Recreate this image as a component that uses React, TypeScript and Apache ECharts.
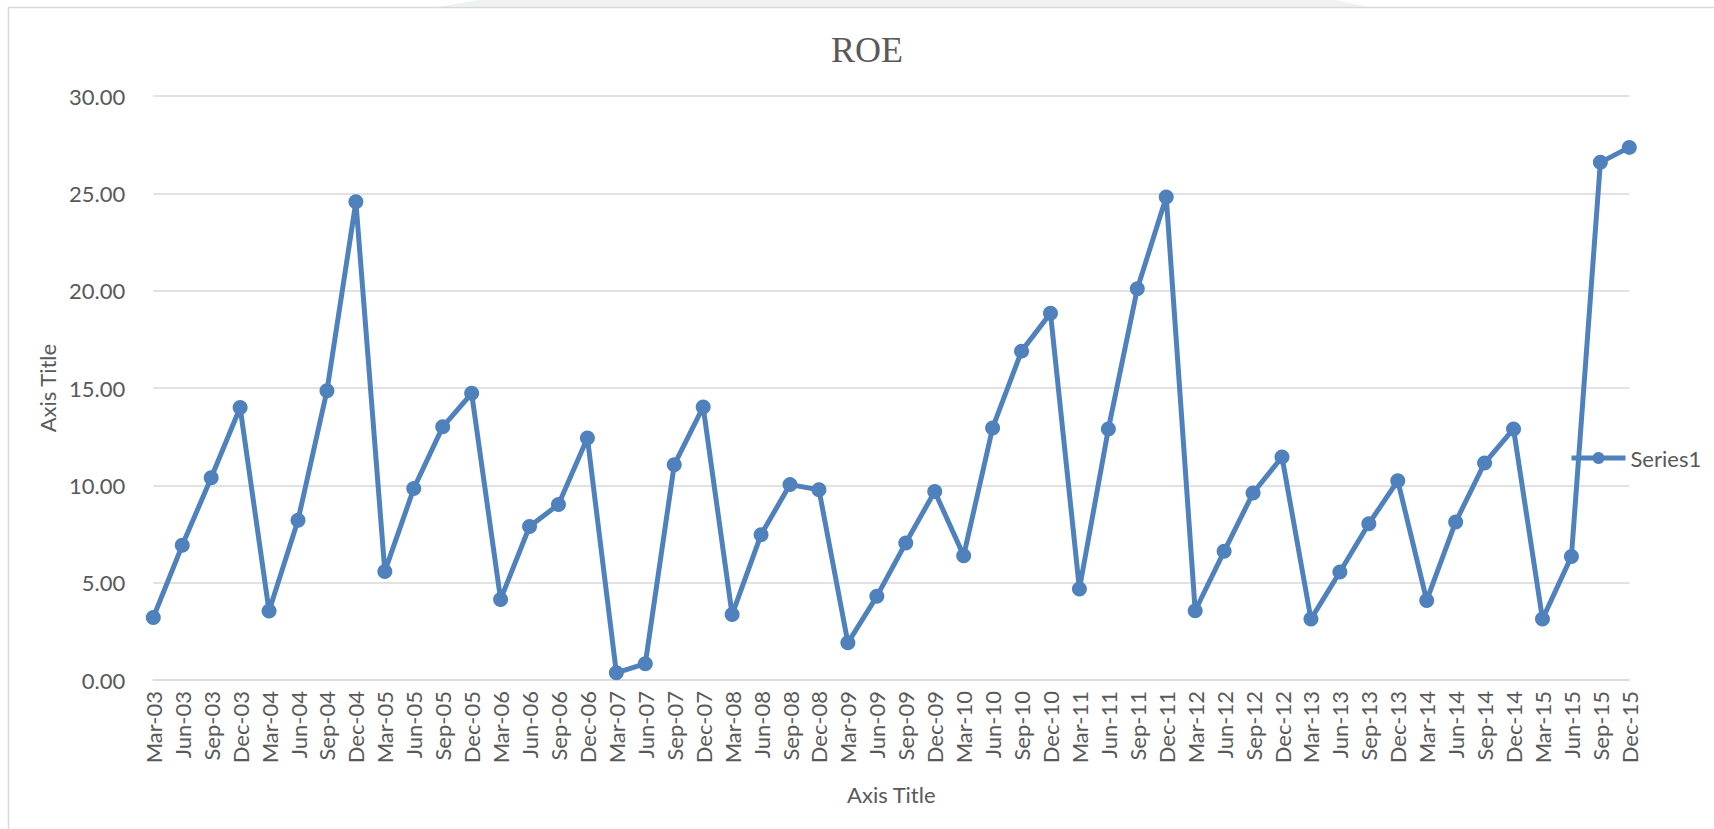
import React, { useEffect, useRef } from "react";
import * as echarts from "echarts";

const chartTitle = "ROE";
const seriesName = "Series1";
const xAxisTitle = "Axis Title";
const yAxisTitle = "Axis Title";

const categories = [
  "Mar-03", "Jun-03", "Sep-03", "Dec-03",
  "Mar-04", "Jun-04", "Sep-04", "Dec-04",
  "Mar-05", "Jun-05", "Sep-05", "Dec-05",
  "Mar-06", "Jun-06", "Sep-06", "Dec-06",
  "Mar-07", "Jun-07", "Sep-07", "Dec-07",
  "Mar-08", "Jun-08", "Sep-08", "Dec-08",
  "Mar-09", "Jun-09", "Sep-09", "Dec-09",
  "Mar-10", "Jun-10", "Sep-10", "Dec-10",
  "Mar-11", "Jun-11", "Sep-11", "Dec-11",
  "Mar-12", "Jun-12", "Sep-12", "Dec-12",
  "Mar-13", "Jun-13", "Sep-13", "Dec-13",
  "Mar-14", "Jun-14", "Sep-14", "Dec-14",
  "Mar-15", "Jun-15", "Sep-15", "Dec-15",
];

const roeValues = [
  3.21, 6.92, 10.39, 14.0,
  3.54, 8.21, 14.86, 24.57,
  5.58, 9.84, 13.01, 14.73,
  4.14, 7.89, 9.02, 12.44,
  0.37, 0.84, 11.06, 14.03,
  3.36, 7.47, 10.04, 9.78,
  1.91, 4.3, 7.04, 9.69,
  6.39, 12.95, 16.9, 18.85,
  4.68, 12.9, 20.1, 24.82,
  3.56, 6.61, 9.61, 11.46,
  3.13, 5.55, 8.03, 10.24,
  4.09, 8.12, 11.15, 12.9,
  3.13, 6.35, 26.6, 27.37,
];

const yMin = 0;
const yMax = 30;
const yStep = 5;

const TEXT = "#595959";
const GRID = "#d9d9d9";
const BLUE = "#4F81BD";
const SANS = "Lato, 'Open Sans', sans-serif";

export default function App() {
  const ref = useRef<HTMLDivElement>(null);

  useEffect(() => {
    if (!ref.current) return;
    const chart = echarts.init(ref.current, null, { renderer: "svg" });
    chart.setOption({
      animation: false,
      backgroundColor: "#ffffff",
      title: {
        text: chartTitle,
        left: 831,
        top: 32,
        padding: 0,
        textStyle: {
          fontFamily: "'Liberation Serif', 'Times New Roman', serif",
          fontSize: 36,
          fontWeight: "normal",
          color: TEXT,
        },
      },
      graphic: [
        {
          type: "polygon",
          silent: true,
          z: -10,
          shape: { points: [[432, 8], [478, 0], [1335, 0], [1374, 8]] },
          style: { fill: "#eef3f1" },
        },
        {
          type: "rect",
          silent: true,
          z: -5,
          shape: { x: 8.5, y: 7.5, width: 1800, height: 900 },
          style: { fill: "none", stroke: GRID, lineWidth: 1.5 },
        },
      ],
      legend: {
        left: 1569,
        top: 447,
        padding: 0,
        itemWidth: 54,
        itemHeight: 15,
        itemGap: 6,
        lineStyle: { width: 5 },
        textStyle: { fontFamily: SANS, fontSize: 22, color: TEXT },
        data: [seriesName],
      },
      grid: {
        left: 153.3,
        right: 84.7,
        top: 96.2,
        bottom: 149,
        containLabel: false,
      },
      xAxis: {
        type: "category",
        data: categories,
        boundaryGap: false,
        name: xAxisTitle,
        nameLocation: "middle",
        nameGap: 103,
        nameTextStyle: { fontFamily: SANS, fontSize: 22, color: TEXT },
        axisLine: { show: true, lineStyle: { color: GRID, width: 1.5 } },
        axisTick: { show: false },
        axisLabel: {
          interval: 0,
          rotate: 90,
          margin: 11,
          fontFamily: SANS,
          fontSize: 22,
          color: TEXT,
        },
        splitLine: { show: false },
      },
      yAxis: {
        type: "value",
        min: yMin,
        max: yMax,
        interval: yStep,
        name: yAxisTitle,
        nameLocation: "middle",
        nameRotate: 90,
        nameGap: 93,
        nameTextStyle: { fontFamily: SANS, fontSize: 22, color: TEXT },
        axisLine: { show: false },
        axisTick: { show: false },
        axisLabel: {
          margin: 28,
          fontFamily: SANS,
          fontSize: 22,
          color: TEXT,
          formatter: (v: number) => v.toFixed(2),
        },
        splitLine: { show: true, lineStyle: { color: GRID, width: 1.5 } },
      },
      series: [
        {
          name: seriesName,
          type: "line",
          data: roeValues,
          symbol: "circle",
          symbolSize: 15,
          showSymbol: true,
          lineStyle: { color: BLUE, width: 5 },
          itemStyle: { color: BLUE },
          emphasis: { disabled: true },
        },
      ],
    });
    return () => chart.dispose();
  }, []);

  return (
    <div
      ref={ref}
      style={{ position: "absolute", left: 0, top: 0, width: 1714, height: 829 }}
    />
  );
}
